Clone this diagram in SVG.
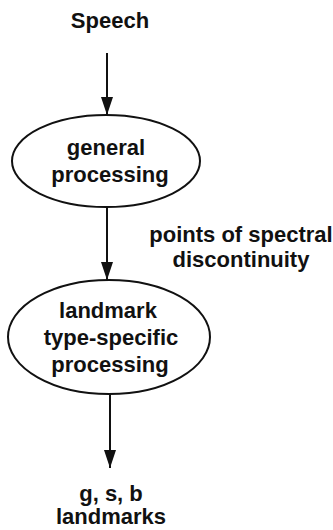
<svg xmlns="http://www.w3.org/2000/svg" width="333" height="530" viewBox="0 0 333 530">
<style>
text{font-family:"Liberation Sans",Arial,Helvetica,sans-serif;font-size:22px;font-weight:bold;fill:#111;text-anchor:middle}
.node ellipse{fill:none;stroke:#111;stroke-width:2}
.conn line{stroke:#111;stroke-width:2}
</style>
<defs>
<marker id="ah" viewBox="0 0 18 12" refX="18" refY="6" markerWidth="18" markerHeight="12" markerUnits="userSpaceOnUse" orient="auto">
<path d="M0,0 L18,6 L0,12 Z" fill="#111"/>
</marker>
</defs>
<g id="speech"><text x="110" y="28">Speech</text></g>
<g id="general" class="node">
<ellipse cx="106" cy="161" rx="94" ry="46"/>
<text x="106" y="155">general</text>
<text x="110" y="182">processing</text>
</g>
<g id="landmark" class="node">
<ellipse cx="109" cy="337" rx="101" ry="57"/>
<text x="108" y="318">landmark</text>
<text x="111" y="345">type-specific</text>
<text x="110" y="372">processing</text>
</g>
<g id="output"><text x="111" y="501">g, s, b</text><text x="111" y="524">landmarks</text></g>
<g id="label"><text x="241" y="242">points of spectral</text><text x="241" y="267">discontinuity</text></g>
<g id="connectors" class="conn">
<line x1="107" y1="53" x2="107" y2="115" marker-end="url(#ah)"/>
<line x1="107" y1="207" x2="107" y2="280" marker-end="url(#ah)"/>
<line x1="110" y1="394" x2="110" y2="468" marker-end="url(#ah)"/>
</g>
</svg>
